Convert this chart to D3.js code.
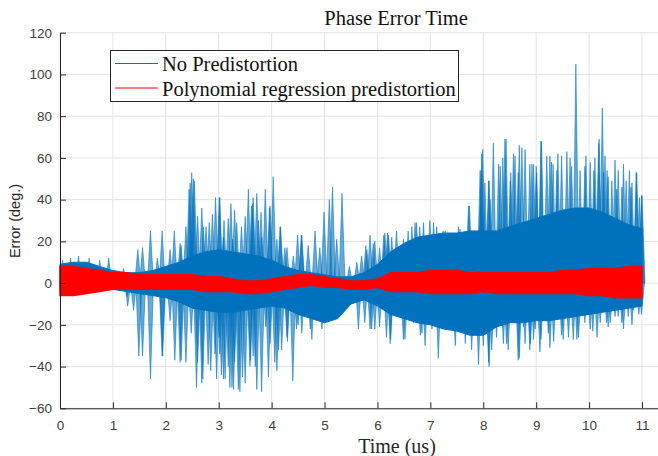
<!DOCTYPE html>
<html>
<head>
<meta charset="utf-8">
<script src="https://cdn.jsdelivr.net/npm/d3@7/dist/d3.min.js"></script>
<style>
  body { margin: 0; background: #fff; }
  svg { display: block; }
</style>
</head>
<body>
<svg id="chart" width="658" height="456"></svg>
<script>
// envelope sample times (us) and values (deg.)
var envT    = [0,0.25,0.5,0.75,1,1.25,1.5,1.75,2,2.25,2.5,2.75,3,3.25,3.5,3.75,4,4.25,4.5,4.75,5,5.25,5.5,5.75,6,6.25,6.5,6.75,7,7.25,7.5,7.75,8,8.25,8.5,8.75,9,9.25,9.5,9.75,10,10.25,10.5,10.75,11];
// solid core of the blue trace
var blueHi  = [9,10,10,8,6,5,5,6,8,10,13,15,16,15,14,13,11,8,6,5,4,3,3,5,9,15,19,22,23,24,24,25,25,25,27,29,31,33,35,36,36,34,31,28,26];
var blueLo  = [-4,-4,-4,-3,-3,-4,-5,-6,-7,-9,-12,-13,-14,-14,-13,-12,-11,-12,-15,-17,-19,-17,-10,-8,-11,-15,-17,-19,-20,-22,-23,-25,-25,-21,-19,-19,-18,-18,-17,-16,-15,-14,-13,-12,-11];
var redHi   = [8,8,7,6,5,5,4,4,4,4,4,3,3,2,1,1,2,3,4,4,3,2,1,1,2,5,5,5,6,6,6,5,5,5,5,5,5,5,6,6,7,7,7,8,8];
var redLo   = [-6,-6,-5,-4,-3,-3,-3,-3,-3,-3,-3,-4,-4,-4,-5,-5,-4,-3,-2,-1,-2,-2,-3,-3,-2,-4,-4,-4,-5,-5,-5,-5,-4,-5,-5,-5,-5,-5,-5,-5,-6,-6,-7,-7,-7];

// peaks of the "No Predistortion" trace [time, error]
var spikesUp = [[0.05,11],[0.2,12],[0.35,13],[0.55,12],[0.75,11],[0.92,12],[1.2,7],
  [1.47,16],[1.56,17],[1.71,25],[1.84,12],[1.93,25],[2.08,16],[2.16,25],[2.27,19],[2.29,18],[2.38,27],
  [2.44,45],[2.46,48],[2.49,53],[2.52,50],[2.54,49],[2.6,32],[2.68,36],[2.71,27],[2.76,27],[2.82,29],
  [2.88,33],[2.94,41],[3.01,41],[3.02,41],[3.09,22],[3.1,30],[3.18,31],[3.23,38],[3.26,21],[3.3,35],
  [3.34,29],[3.43,27],[3.5,32],[3.56,45],[3.62,37],[3.64,38],[3.65,41],[3.72,43],[3.75,30],[3.8,34],
  [3.81,22],[3.88,45],[3.96,36],[3.97,37],[4.03,51],[4.1,21],[4.16,27],[4.17,27],[4.25,17],[4.29,17],
  [4.41,13],[4.49,23],[4.56,23],[4.57,23],[4.69,18],[4.82,25],[4.91,17],[4.99,34],[5.09,40],[5.15,46],
  [5.23,21],[5.33,43],[5.47,8],[5.61,10],[5.7,13],[5.78,18],[5.8,16],[5.86,23],[5.92,19],[5.95,20],
  [6.04,17],[6.05,9.5],[6.12,23],[6.14,24],[6.19,24],[6.21,23],[6.27,22],[6.36,25],[6.49,21],[6.58,25],
  [6.65,27],[6.71,29],[6.74,29],[6.8,27],[6.87,29],[6.99,30],[7.06,29],[7.12,27],[7.24,25],[7.28,25],
  [7.37,24],[7.53,27],[7.56,26],[7.72,37],[7.74,37],[7.91,23],[7.94,54],[7.96,54],[7.97,62],[7.99,64],
  [8.03,48],[8.1,49],[8.11,49],[8.13,40],[8.19,67],[8.29,57],[8.32,56],[8.37,60],[8.41,69],[8.43,69],
  [8.51,49],[8.52,53],[8.57,62],[8.6,61],[8.66,53],[8.68,66],[8.73,65],[8.79,64],[8.88,57],[8.92,57],
  [8.95,57],[9.0,56],[9.01,53],[9.09,68],[9.1,68],[9.2,61],[9.26,61],[9.29,58],[9.32,57],[9.39,54],
  [9.41,62],[9.48,61],[9.58,63],[9.64,60],[9.67,56],[9.75,105],[9.83,54],[9.92,56],[9.94,61],[10.02,58],
  [10.09,54],[10.11,60],[10.18,67],[10.19,69],[10.25,84],[10.27,53],[10.3,61],[10.34,54],[10.36,51],
  [10.43,49],[10.49,59],[10.52,45],[10.55,54],[10.62,46],[10.65,57],[10.7,49],[10.76,54],[10.79,46],
  [10.81,48],[10.89,53],[10.9,53],[10.95,41],[10.99,42],[11.0,42]];
var spikesDown = [[1.27,-6.5],[1.28,-11],[1.39,-13],[1.49,-35],[1.56,-35],[1.71,-46],[1.93,-35],[1.94,-35],
  [2.08,-18],[2.17,-37],[2.27,-38],[2.29,-37],[2.38,-38],[2.48,-24],[2.58,-50],[2.6,-38],[2.68,-48],
  [2.7,-46],[2.8,-39],[2.85,-42],[2.93,-34],[2.96,-46],[3.01,-26],[3.02,-34],[3.05,-44],[3.09,-46],
  [3.12,-46],[3.18,-40],[3.21,-50],[3.25,-50],[3.28,-51],[3.3,-38],[3.37,-51],[3.4,-52],[3.45,-45],
  [3.5,-48],[3.59,-40],[3.6,-37],[3.65,-35],[3.69,-40],[3.72,-51],[3.81,-52],[3.89,-21],[3.94,-45],
  [3.97,-29],[4.06,-38],[4.1,-42],[4.13,-32],[4.19,-32],[4.29,-26],[4.3,-28],[4.4,-47],[4.47,-22],
  [4.5,-20],[4.57,-24],[4.73,-22],[4.76,-27],[4.95,-22],[4.98,-19],[5.29,-14],[5.64,-22],[5.76,-19],
  [5.86,-22],[5.89,-22],[5.95,-22],[6.04,-21],[6.17,-26],[6.24,-29],[6.25,-27],[6.49,-27],[6.52,-27],
  [6.68,-19],[6.81,-25],[6.84,-24],[6.9,-30],[7.03,-22],[7.15,-36],[7.31,-22],[7.47,-30],[7.62,-22],
  [7.66,-29],[7.78,-32],[7.91,-39],[8.0,-30],[8.1,-38],[8.11,-40],[8.16,-32],[8.25,-26],[8.38,-29],
  [8.44,-29],[8.47,-32],[8.66,-37],[8.68,-36],[8.76,-21],[8.79,-29],[8.88,-32],[8.89,-29],[8.95,-27],
  [8.98,-22],[9.07,-33],[9.09,-27],[9.23,-24],[9.26,-31],[9.33,-28],[9.48,-25],[9.51,-27],[9.61,-26],
  [9.7,-27],[9.77,-27],[9.8,-26],[9.92,-19],[10.02,-22],[10.07,-23],[10.15,-26],[10.21,-19],[10.33,-19],
  [10.36,-21],[10.4,-19],[10.49,-16],[10.55,-16],[10.62,-19],[10.65,-22],[10.74,-16],[10.81,-20],
  [10.83,-13],[10.94,-15],[10.99,-15]];

var xTicks = [0,1,2,3,4,5,6,7,8,9,10,11];
var yTicks = [-60,-40,-20,0,20,40,60,80,100,120];
var seriesNames = ["No Predistortion", "Polynomial regression predistortion"];
var seriesColors = ["#0072BD", "#FF0000"];

var svg = d3.select("#chart");
var x = d3.scaleLinear().domain([0, 11.5]).range([60, 60 + 11.5 * 52.91]);
var y = d3.scaleLinear().domain([-60, 120]).range([408.3, 32.7]);

// grid
var grid = svg.append("g");
grid.selectAll(".gx").data(xTicks).enter().append("line")
  .attr("x1", d => x(d)).attr("x2", d => x(d))
  .attr("y1", y(-60)).attr("y2", y(120))
  .attr("stroke", "#e3e3e3").attr("stroke-width", 1);
grid.selectAll(".gy").data(yTicks).enter().append("line")
  .attr("x1", x(0)).attr("x2", 658)
  .attr("y1", d => y(d)).attr("y2", d => y(d))
  .attr("stroke", "#e3e3e3").attr("stroke-width", 1);

var env = envT.map((t, i) => ({t: t, bh: blueHi[i], bl: blueLo[i], rh: redHi[i], rl: redLo[i]}));

// blue trace: peaks as thin wedges from the zero line, then the dense core
var plot = svg.append("g");
plot.selectAll(".sp").data(spikesUp.concat(spikesDown)).enter().append("path")
  .attr("d", function(d) {
    var px = x(d[0]);
    return "M" + (px - 3) + "," + y(0) + "L" + px + "," + y(d[1]) + "L" + (px + 3) + "," + y(0) + "Z";
  })
  .attr("fill", seriesColors[0]).attr("fill-opacity", 0.6)
  .attr("stroke", seriesColors[0]).attr("stroke-opacity", 0.6).attr("stroke-width", 0.9);

plot.append("path").datum(env)
  .attr("d", d3.area().x(d => x(d.t)).y0(d => y(d.bl)).y1(d => y(d.bh)))
  .attr("fill", seriesColors[0]).attr("stroke", seriesColors[0]).attr("stroke-width", 1);

plot.append("path").datum(env)
  .attr("d", d3.area().x(d => x(d.t)).y0(d => y(d.rl)).y1(d => y(d.rh)))
  .attr("fill", seriesColors[1]).attr("stroke", seriesColors[1]).attr("stroke-width", 1.5);

// axes
var xAxis = svg.append("g").attr("transform", "translate(0," + y(-60) + ")")
  .call(d3.axisBottom(x).tickValues(xTicks).tickSizeInner(-6).tickSizeOuter(0).tickPadding(12));
var yAxis = svg.append("g").attr("transform", "translate(" + x(0) + ",0)")
  .call(d3.axisLeft(y).tickValues(yTicks).tickSizeInner(-6).tickSizeOuter(0).tickPadding(8));
[xAxis, yAxis].forEach(function(a) {
  a.select(".domain").attr("stroke", "#262626").attr("stroke-width", 1);
  a.selectAll(".tick line").attr("stroke", "#262626");
  a.selectAll(".tick text").attr("fill", "#404040")
    .style("font-family", "'Liberation Sans', Arial, sans-serif").style("font-size", "13.5px");
});

// titles
svg.append("text").attr("x", 396).attr("y", 25).attr("text-anchor", "middle")
  .style("font-family", "'Liberation Serif', 'Times New Roman', serif").style("font-size", "20.5px")
  .attr("fill", "#111").text("Phase Error Time");
svg.append("text").attr("x", 397).attr("y", 453).attr("text-anchor", "middle")
  .style("font-family", "'Liberation Serif', 'Times New Roman', serif").style("font-size", "20px")
  .attr("fill", "#262626").text("Time (us)");
svg.append("text").attr("transform", "translate(20,221) rotate(-90)").attr("text-anchor", "middle")
  .style("font-family", "'Liberation Sans', Arial, sans-serif").style("font-size", "14.5px")
  .attr("fill", "#262626").text("Error (deg.)");

// legend
var leg = svg.append("g");
leg.append("rect").attr("x", 110.5).attr("y", 50.5).attr("width", 348).attr("height", 51)
  .attr("fill", "#fff").attr("stroke", "#262626").attr("stroke-width", 1);
seriesNames.forEach(function(name, i) {
  var ly = 63.5 + i * 24.5;
  leg.append("line").attr("x1", 115).attr("x2", 158).attr("y1", ly).attr("y2", ly)
    .attr("stroke", seriesColors[i]).attr("stroke-width", 1);
  leg.append("text").attr("x", 162).attr("y", ly + 7.5)
    .style("font-family", "'Liberation Serif', 'Times New Roman', serif").style("font-size", "20.5px")
    .attr("fill", "#111").text(name);
});
</script>
</body>
</html>
